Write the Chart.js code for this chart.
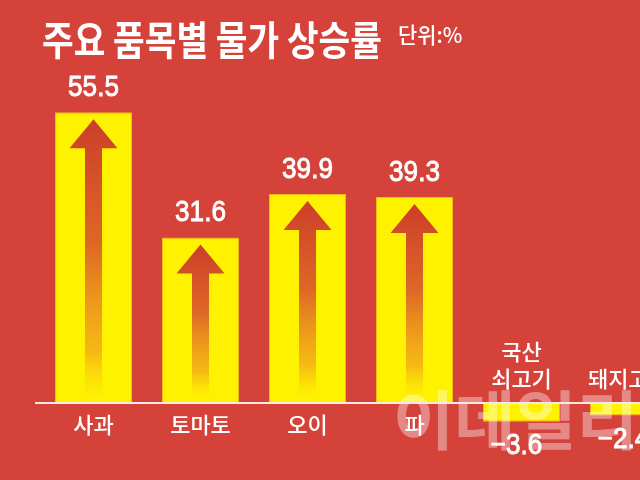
<!DOCTYPE html>
<html><head><meta charset="utf-8">
<script src="https://cdn.jsdelivr.net/npm/chart.js@4"></script>
<style>html,body{margin:0;padding:0;overflow:hidden;background:#d4423a;width:640px;height:480px}canvas{display:block}</style>
</head><body>
<canvas id="c" width="700" height="480"></canvas>
<script>
const categories = ['사과', '토마토', '오이', '파', ['국산', '쇠고기'], '돼지고기'];
const values = [55.5, 31.6, 39.9, 39.3, -3.6, -2.4];
const valueLabels = ['55.5', '31.6', '39.9', '39.3', '−3.6', '−2.4'];
const titleText = '주요 품목별 물가 상승률';
const unitText = '단위:%';
const watermarkText = '이데일리';

const BG = '#d4423a';
const KFONT = "'Noto Sans CJK KR', 'Noto Sans', sans-serif";
const NFONT = "'Liberation Sans Narrow', 'Liberation Sans', Arial, sans-serif";

const deco = {
  id: 'deco',
  beforeDraw(chart) {
    const ctx = chart.ctx;
    ctx.save();
    ctx.fillStyle = BG;
    ctx.fillRect(0, 0, chart.width, chart.height);
    ctx.restore();
  },
  afterDatasetsDraw(chart) {
    const ctx = chart.ctx;
    const meta = chart.getDatasetMeta(0);
    const y0 = chart.scales.y.getPixelForValue(0);
    ctx.save();
    // arrows
    meta.data.forEach((bar, i) => {
      if (values[i] <= 0) return;
      const cx = bar.x, top = bar.y;
      const apex = top + 7, base = apex + 29, hw = 24, sw = 8.5, bottom = y0 - 8;
      const g = ctx.createLinearGradient(0, apex, 0, bottom);
      g.addColorStop(0, 'rgba(205,62,42,1)');
      g.addColorStop(0.45, 'rgba(220,95,40,0.95)');
      g.addColorStop(0.85, 'rgba(240,150,30,0.6)');
      g.addColorStop(1, 'rgba(250,200,20,0.1)');
      ctx.fillStyle = g;
      ctx.beginPath();
      ctx.moveTo(cx, apex);
      ctx.lineTo(cx + hw, base);
      ctx.lineTo(cx + sw, base);
      ctx.lineTo(cx + sw, bottom);
      ctx.lineTo(cx - sw, bottom);
      ctx.lineTo(cx - sw, base);
      ctx.lineTo(cx - hw, base);
      ctx.closePath();
      ctx.fill();
    });
    // watermark
    ctx.save();
    ctx.fillStyle = 'rgba(255,255,255,0.38)';
    ctx.font = 'bold 64px ' + KFONT;
    ctx.textBaseline = 'middle';
    ctx.textAlign = 'left';
    ctx.translate(393, 420);
    ctx.scale(1.04, 1);
    ctx.fillText(watermarkText, 0, 0);
    ctx.restore();
    // baseline
    ctx.strokeStyle = '#f8e8e4';
    ctx.lineWidth = 2;
    ctx.beginPath();
    ctx.moveTo(35, y0);
    ctx.lineTo(chart.width, y0);
    ctx.stroke();
    // value labels
    ctx.fillStyle = '#ffffff';
    ctx.strokeStyle = '#ffffff';
    ctx.lineWidth = 0.9;
    ctx.textAlign = 'center';
    ctx.textBaseline = 'middle';
    meta.data.forEach((bar, i) => {
      ctx.save();
      const ly = values[i] >= 0 ? bar.y - 24 : bar.y + 24;
      ctx.translate(bar.x - (values[i] < 0 ? 5 : 0), ly);
      ctx.scale(0.9, 1);
      ctx.font = '29px ' + NFONT;
      ctx.fillText(valueLabels[i], 0, 0);
      ctx.strokeText(valueLabels[i], 0, 0);
      ctx.restore();
    });
    // category labels
    ctx.font = '500 22px ' + KFONT;
    meta.data.forEach((bar, i) => {
      const lab = categories[i];
      if (values[i] >= 0) {
        ctx.fillText(lab, bar.x, y0 + 22);
      } else {
        const lines = Array.isArray(lab) ? lab : [lab];
        lines.forEach((t, k) => {
          ctx.fillText(t, bar.x, y0 - 24 - (lines.length - 1 - k) * 27);
        });
      }
    });
    // title
    ctx.textAlign = 'left';
    ctx.textBaseline = 'alphabetic';
    ctx.save();
    ctx.translate(42, 55);
    ctx.scale(0.86, 1);
    ctx.font = 'bold 40px ' + KFONT;
    ctx.fillText(titleText, 0, 0);
    ctx.restore();
    ctx.save();
    ctx.translate(398, 43);
    ctx.scale(0.95, 1);
    ctx.font = '500 22px ' + KFONT;
    ctx.fillText(unitText, 0, 0);
    ctx.restore();
    ctx.restore();
  }
};

new Chart(document.getElementById('c'), {
  type: 'bar',
  data: {
    labels: categories,
    datasets: [{
      data: values,
      backgroundColor: '#fff200',
      borderColor: '#f2b61c',
      borderWidth: 1,
      categoryPercentage: 1,
      barPercentage: 0.72
    }]
  },
  options: {
    responsive: false,
    animation: false,
    events: [],
    layout: { padding: { left: 40, right: 18, top: 88.6, bottom: 24.6 } },
    plugins: { legend: { display: false }, tooltip: { enabled: false } },
    scales: {
      x: { display: false },
      y: { display: false, min: -10, max: 60 }
    }
  },
  plugins: [deco]
});
</script>
</body></html>
